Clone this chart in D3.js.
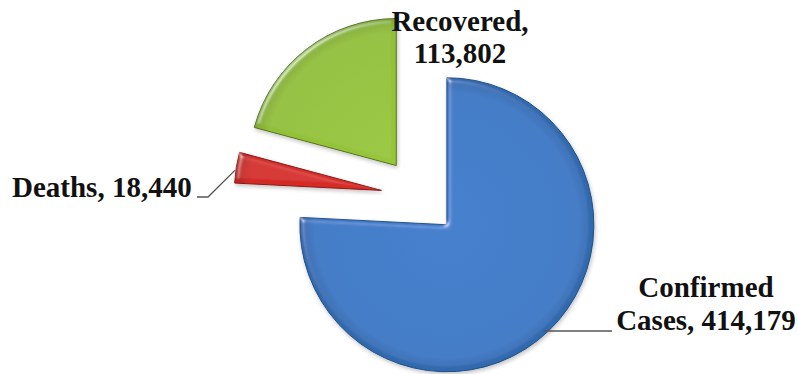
<!DOCTYPE html>
<html>
<head>
<meta charset="utf-8">
<script src="https://cdn.jsdelivr.net/npm/d3@7"></script>
<style>
  html, body { margin: 0; padding: 0; background: #fff; }
  svg { display: block; }
  text { font-family: "Liberation Serif", "Times New Roman", serif; font-weight: bold; fill: #111; }
</style>
</head>
<body>
<svg id="chart" width="798" height="374"></svg>
<script>
// Case counts
const categories = ["Confirmed Cases", "Deaths", "Recovered"];
const values = [414179, 18440, 113802];
const labelLines = [["Confirmed", "Cases, 414,179"], ["Deaths, 18,440"], ["Recovered,", "113,802"]];
const colors = ["#3877c4", "#d22b27", "#92bf38"];
const rimColors = ["#1f4e88", "#8a1a17", "#55741f"];

const W = 798, H = 374;
const cx = 420, cy = 196.5, radius = 147, explode = 39;

const svg = d3.select("#chart");
const defs = svg.append("defs");

// Soft bevel lighting for each wedge
const bevel = defs.append("filter").attr("id", "bevel")
  .attr("x", "-10%").attr("y", "-10%").attr("width", "120%").attr("height", "120%");
bevel.append("feGaussianBlur").attr("in", "SourceAlpha").attr("stdDeviation", 2.5).attr("result", "blur");
bevel.append("feSpecularLighting").attr("in", "blur").attr("surfaceScale", 3)
  .attr("specularConstant", 0.4).attr("specularExponent", 30).attr("lighting-color", "#ffffff")
  .attr("result", "spec")
  .append("feDistantLight").attr("azimuth", 225).attr("elevation", 40);
bevel.append("feComposite").attr("in", "spec").attr("in2", "SourceAlpha").attr("operator", "in").attr("result", "specIn");
bevel.append("feComposite").attr("in", "SourceGraphic").attr("in2", "specIn")
  .attr("operator", "arithmetic").attr("k1", 0).attr("k2", 1).attr("k3", 1).attr("k4", 0).attr("result", "lit");
bevel.append("feGaussianBlur").attr("in", "SourceAlpha").attr("stdDeviation", 2).attr("result", "sh");
bevel.append("feOffset").attr("in", "sh").attr("dx", 1).attr("dy", 2).attr("result", "shOff");
bevel.append("feComponentTransfer").attr("in", "shOff").attr("result", "shA")
  .append("feFuncA").attr("type", "linear").attr("slope", 0.25);
const merge = bevel.append("feMerge");
merge.append("feMergeNode").attr("in", "shA");
merge.append("feMergeNode").attr("in", "lit");

// Gradient per wedge: slightly lighter centre, darker rim
categories.forEach((c, i) => {
  const g = defs.append("radialGradient").attr("id", "grad" + i)
    .attr("gradientUnits", "userSpaceOnUse").attr("cx", 0).attr("cy", 0).attr("r", radius);
  g.append("stop").attr("offset", "0%").attr("stop-color", d3.color(colors[i]).brighter(0.1));
  g.append("stop").attr("offset", "90%").attr("stop-color", colors[i]);
  g.append("stop").attr("offset", "100%").attr("stop-color", d3.color(colors[i]).darker(0.4));
});

const pie = d3.pie().sort(null).value(d => d).startAngle(0).endAngle(2 * Math.PI);
const arcs = pie(values);
const arc = d3.arc().innerRadius(0).outerRadius(radius);

const root = svg.append("g").attr("transform", `translate(${cx},${cy})`);

function wedgeOffset(d) {
  const a = (d.startAngle + d.endAngle) / 2;
  return [explode * Math.sin(a), -explode * Math.cos(a)];
}

const wedge = root.selectAll("g.wedge").data(arcs).join("g")
  .attr("class", "wedge")
  .attr("transform", d => `translate(${wedgeOffset(d)})`);

wedge.append("path")
  .attr("d", arc)
  .attr("fill", (d, i) => `url(#grad${i})`)
  .attr("stroke", (d, i) => rimColors[i])
  .attr("stroke-width", 1)
  .attr("stroke-linejoin", "round")
  .attr("filter", "url(#bevel)");

// Labels and leader lines
const fontSize = 29, lineGap = 33;

function pointOn(d, angle, r) {
  const o = wedgeOffset(d);
  return [cx + o[0] + r * Math.sin(angle), cy + o[1] - r * Math.cos(angle)];
}

const labels = svg.append("g");
const lead = svg.append("g").attr("fill", "none").attr("stroke", "#555").attr("stroke-width", 1.3);

// Confirmed Cases: text below-right, leader runs left to the wedge edge
{
  const d = arcs[0];
  const tx = 706, ty = 297;
  labelLines[0].forEach((t, k) => labels.append("text")
    .attr("x", tx).attr("y", ty + k * lineGap).attr("text-anchor", "middle")
    .attr("font-size", fontSize).text(t));
  const yLine = ty + lineGap + 1;
  const o = wedgeOffset(d);
  const dy = yLine - (cy + o[1]);
  const xEdge = cx + o[0] + Math.sqrt(radius * radius - dy * dy) - 4;
  lead.append("path").attr("d", `M${xEdge},${yLine}H612`);
}

// Deaths: text on the left, bent leader to the outer arc
{
  const d = arcs[1];
  const tx = 12, ty = 197;
  labels.append("text").attr("x", tx).attr("y", ty).attr("font-size", fontSize).text(labelLines[1][0]);
  const p = pointOn(d, (d.startAngle + d.endAngle) / 2 - 0.02, radius + 1);
  lead.append("path").attr("d", `M197,${ty}H208L${p[0]},${p[1]}`);
}

// Recovered: text above the gap between the wedges
{
  const tx = 460, ty = 31;
  labelLines[2].forEach((t, k) => labels.append("text")
    .attr("x", tx).attr("y", ty + k * (lineGap - 1)).attr("text-anchor", "middle")
    .attr("font-size", fontSize).text(t));
}
</script>
</body>
</html>
